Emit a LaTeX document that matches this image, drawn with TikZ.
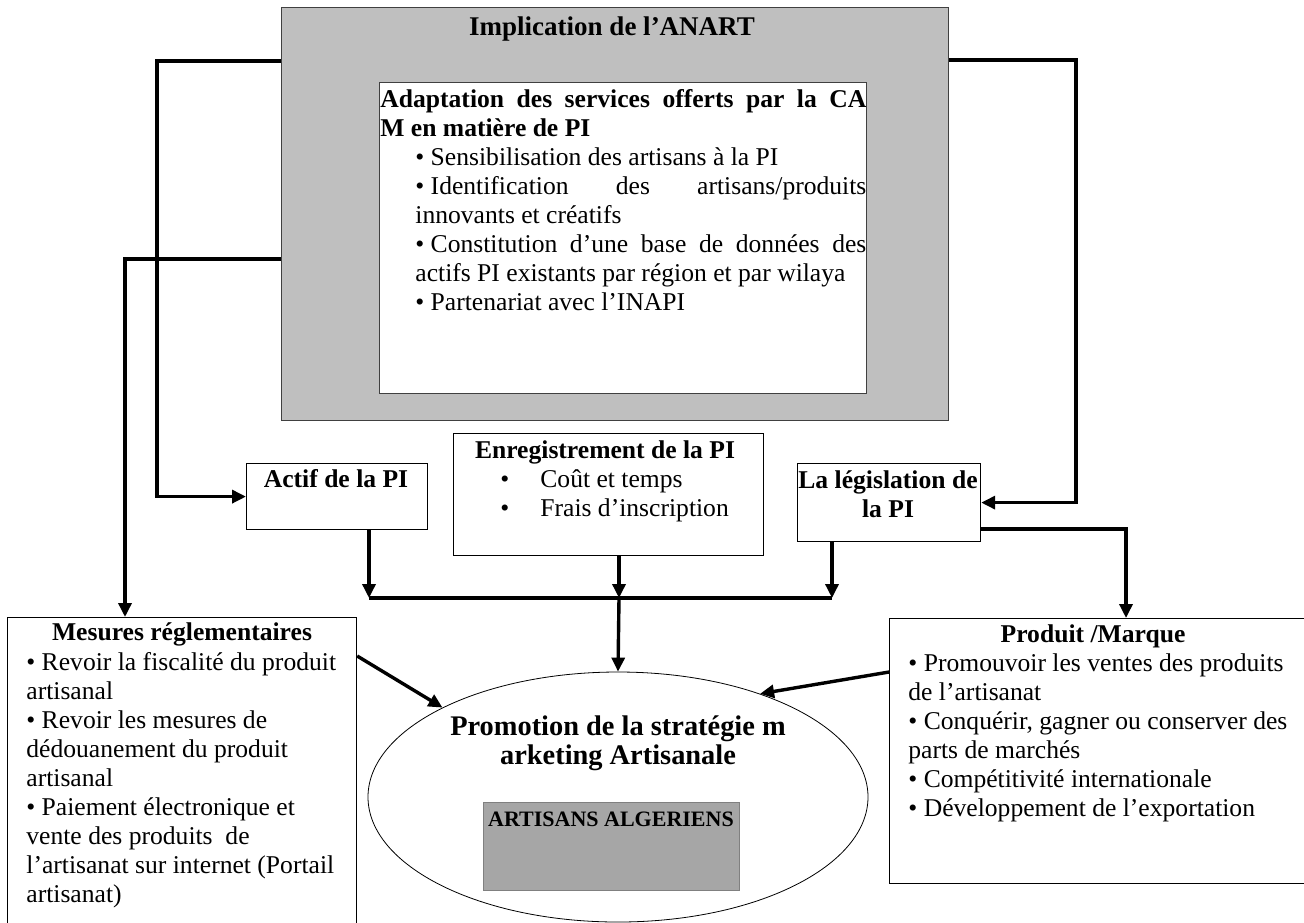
\documentclass[tikz,border=0pt]{standalone}
\usepackage{fontspec}
\setmainfont{Liberation Serif}
\usetikzlibrary{arrows.meta,positioning,calc,shapes.geometric}

\definecolor{anartgray}{RGB}{191,191,191}
\definecolor{algergray}{RGB}{166,166,166}
\definecolor{edgegray}{RGB}{64,64,64}

\newcommand\puce{\mbox{\textbullet\ }}

\tikzset{
  box/.style={draw, line width=0.6pt, anchor=north west, inner sep=0pt},
  bodytxt/.style={inner sep=0pt, font=\fontsize{12.8}{14.5}\selectfont},
  headtxt/.style={inner sep=0pt, font=\bfseries\fontsize{12.8}{14.5}\selectfont},
  arr/.style={line width=1.7pt, -{Triangle[length=7pt,width=6.5pt]}},
  bar/.style={line width=2.3pt},
}

\begin{document}
\begin{tikzpicture}[x=0.5pt,y=-0.5pt]
  \useasboundingbox (0,0) rectangle (1304,922);
  \clip (0,0) rectangle (1304,922);

  % bloc ANART
  \node[box, draw=edgegray, fill=anartgray, minimum width=333.5pt, minimum height=206.5pt] (anart) at (281,7) {};
  \node[headtxt, font=\bfseries\fontsize{13.5}{15}\selectfont, anchor=base] (anarttxt) at (612,35) {Implication de l'ANART};
  \node[box, draw=edgegray, fill=white, minimum width=243.5pt, minimum height=155.5pt] (adapt) at (379,82) {};
  \node[bodytxt, anchor=north west, text width=243pt, align=justify] (adapttxt) at (380,88.6)
    {\parindent=0pt\tolerance=9999
     {\bfseries Adaptation des services offerts par la CA\linebreak M en matière de PI\par}
     \leftskip=17.5pt
     \puce Sensibilisation des artisans à la PI\par
     \puce Identification des artisans/produits\linebreak innovants et créatifs\par
     \puce Constitution d'une base de données des\linebreak actifs PI existants par région et par wilaya\par
     \puce Partenariat avec l'INAPI\par};

  % boites du milieu
  \node[box, minimum width=90.5pt, minimum height=33pt] (actif) at (246,463) {};
  \node[headtxt, anchor=base] (actiftxt) at (336,487) {Actif de la PI};

  \node[box, minimum width=155pt, minimum height=61pt] (enreg) at (453,433) {};
  \node[headtxt, anchor=base] (enregtxt) at (605,458) {Enregistrement de la PI};
  \node[bodytxt, anchor=north west, align=left] (enregitems) at (500,469.6)
    {\makebox[20pt][l]{\textbullet}Coût et temps\\\makebox[20pt][l]{\textbullet}Frais d'inscription};

  \node[box, minimum width=91.5pt, minimum height=39pt] (legis) at (797,463) {};
  \node[headtxt, anchor=north, align=center] (legistxt) at (888,470.6) {La législation de\\la PI};

  % boites du bas
  \node[box, minimum width=174.5pt, minimum height=160pt] (mesures) at (7,617) {};
  \node[headtxt, anchor=base] (mesurestxt) at (182,640) {Mesures réglementaires};
  \node[bodytxt, anchor=north west, align=left] (mesuresitems) at (26,651.6)
    {\puce Revoir la fiscalité du produit\\artisanal\\
     \puce Revoir les mesures de\\dédouanement du produit\\artisanal\\
     \puce Paiement électronique et\\vente des produits\ \ de\\
     l'artisanat sur internet (Portail\\artisanat)};

  \node[box, minimum width=211pt, minimum height=132.5pt] (produit) at (889,618) {};
  \node[headtxt, anchor=base] (produittxt) at (1093,642) {Produit /Marque};
  \node[bodytxt, anchor=north west, align=left] (produititems) at (908,653.6)
    {\puce Promouvoir les ventes des produits\\de l'artisanat\\
     \puce Conquérir, gagner ou conserver des\\parts de marchés\\
     \puce Compétitivité internationale\\
     \puce Développement de l'exportation};

  \node[draw, ellipse, line width=0.4pt, minimum width=250pt, minimum height=125pt, inner sep=0pt] (promo) at (618,797) {};
  \node[headtxt, font=\bfseries\fontsize{14.2}{14.5}\selectfont, anchor=north, align=center] (promotxt) at (618,715.7)
    {Promotion de la stratégie m\\arketing Artisanale};
  \node[box, draw=gray, fill=algergray, minimum width=128pt, minimum height=44pt] (algeriens) at (483,802) {};
  \node[headtxt, font=\bfseries\fontsize{11}{13}\selectfont, anchor=base] (algerienstxt) at (611,826) {ARTISANS ALGERIENS};

  % connecteurs
  \coordinate (westhi) at (157,61);
  \coordinate (westlo) at (125,259);
  \coordinate (easthi) at (1076,60);
  \coordinate (eastlo) at (1126,529);
  \coordinate (joinL) at (369,598);
  \coordinate (joinM) at (619,598);
  \coordinate (joinR) at (832,598);

  \draw[arr] (westhi -| anart.west) -- (westhi) |- (actif.west);
  \draw[arr] (westlo -| anart.west) -- (westlo) -- (westlo |- mesures.north);
  \draw[arr] (easthi -| anart.east) -- (easthi) |- (legis.east);
  \draw[arr] (eastlo -| legis.east) -- (eastlo) -- (eastlo |- produit.north);
  \draw[arr] (joinL |- actif.south) -- (joinL);
  \draw[arr] (joinM |- enreg.south) -- (joinM);
  \draw[arr] (joinR |- legis.south) -- (joinR);
  \draw[bar] (joinL) -- (joinR);
  \draw[arr] (joinM) -- (promo.north);
  \draw[arr] ($(mesures.north east)+(0,39)$) -- (promo.153);
  \draw[arr] ($(produit.north west)+(0,54)$) -- (promo.36);
\end{tikzpicture}
\end{document}
